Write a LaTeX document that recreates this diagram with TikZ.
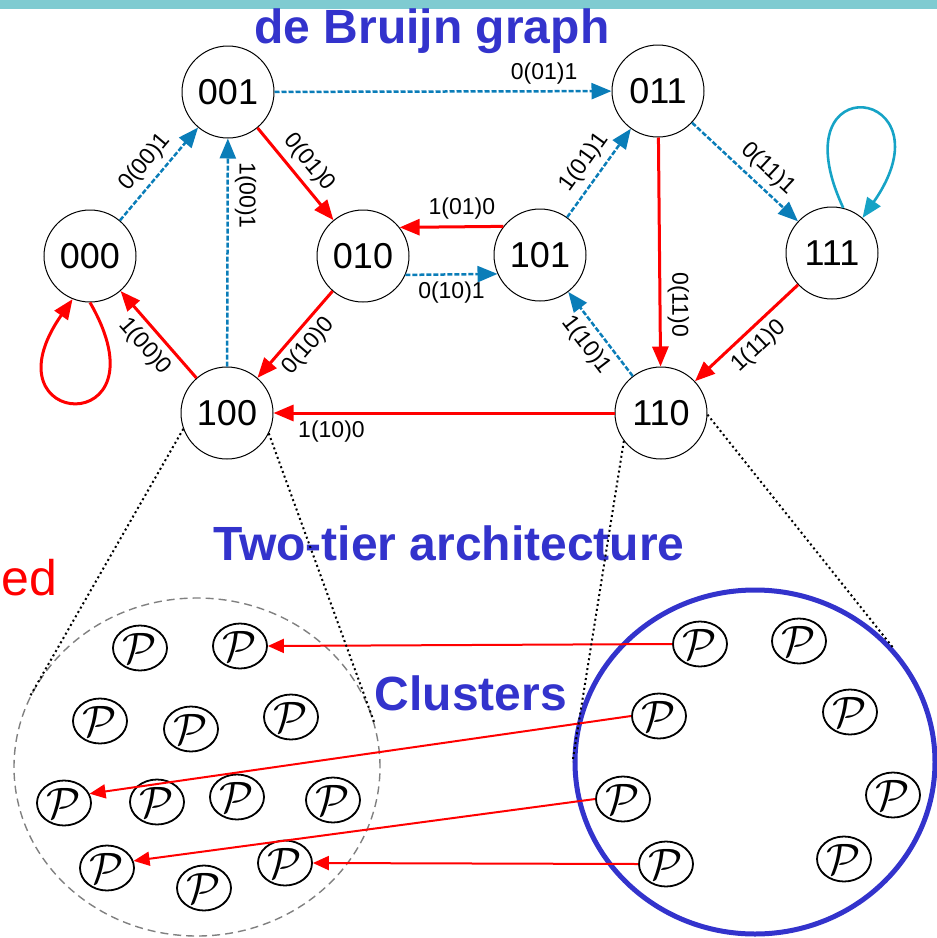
\documentclass[tikz,border=0pt]{standalone}
\usepackage{fix-cm}
\usepackage{fontspec}
\setmainfont{Liberation Sans}
\usetikzlibrary{arrows.meta,shapes.geometric}

\definecolor{barteal}{HTML}{7FCBD1}
\definecolor{titleblue}{HTML}{3333CC}
\definecolor{edgeblue}{HTML}{0A7DB8}
\definecolor{loopblue}{HTML}{16A3C6}

\tikzset{
    state/.style={circle,draw,line width=0.5pt,minimum size=46pt,inner sep=0pt,
        font=\fontsize{18}{18}\selectfont},
    peer/.style={ellipse,draw,line width=0.9pt,minimum width=27pt,minimum height=22.5pt,
        inner sep=0pt,font=\fontsize{22}{22}\selectfont},
    zero/.style={red,line width=1.5pt,-{Triangle[length=10pt,width=8pt]}},
    one/.style={edgeblue,line width=1.25pt,dash pattern=on 2.5pt off 1pt,
        -{Triangle[length=10pt,width=8pt]}},
    lbl/.style={text=black,font=\fontsize{11.5}{11.5}\selectfont,inner sep=3pt},
    heading/.style={titleblue,inner sep=0pt,font=\fontsize{24}{24}\selectfont\bfseries},
    zoomline/.style={line width=1pt,dash pattern=on 1pt off 1.5pt},
    link/.style={red,line width=1pt,-{Triangle[length=8pt,width=7pt]}}
}

\begin{document}
\begin{tikzpicture}[x=0.5pt,y=-0.5pt]
    \useasboundingbox (0,0) rectangle (937,938);
    \fill[barteal] (0,0) rectangle (937,9);

    % de Bruijn graph
    \node[heading,anchor=base] (title) at (432,43) {de Bruijn graph};
    \begin{scope}[every node/.style={state}]
        \node (n001) at (228,92) {001};
        \node (n011) at (658,91) {011};
        \node (n000) at (90,256) {000};
        \node (n010) at (363,256) {010};
        \node (n101) at (540,255) {101};
        \node (n111) at (832,253) {111};
        \node (n100) at (227,413) {100};
        \node (n110) at (661,413) {110};
    \end{scope}
    \path (n000) edge[one] node[lbl, midway, sloped, above] {0(00)1}(n001);
    \path (n100) edge[one] node[lbl, pos=0.75, anchor=south, rotate=-90] {1(00)1}(n001);
    \path (n001) edge[one] node[lbl, pos=0.8, above] {0(01)1}(n011);
    \path (n010.-24) edge[one] node[lbl, midway, below] {0(10)1}(n101.-156);
    \path (n101) edge[one] node[lbl, midway, sloped, above] {1(01)1}(n011);
    \path (n011) edge[one] node[lbl, pos=0.6, sloped, above] {0(11)1}(n111);
    \path (n110) edge[one] node[lbl, midway, sloped, below] {1(10)1}(n101);
    \path (n001) edge[zero] node[lbl, midway, sloped, above] {0(01)0}(n010);
    \path (n101.142) edge[zero] node[lbl, pos=0.4, above] {1(01)0}(n010.38);
    \path (n010) edge[zero] node[lbl, midway, sloped, below] {0(10)0}(n100);
    \path (n100) edge[zero] node[lbl, midway, sloped, below] {1(00)0}(n000);
    \path (n011) edge[zero] node[lbl, pos=0.73, anchor=south, rotate=-90] {0(11)0}(n110);
    \path (n111) edge[zero] node[lbl, midway, sloped, below] {1(11)0}(n110);
    \path (n110) edge[zero] node[lbl, pos=0.83, below] {1(10)0}(n100);
    \path (n000.-90) edge[zero, out=-60, in=-125, distance=80pt] (n000.-112);
    \path (n111.76) edge[loopblue, line width=1.3pt, -{Triangle[length=10pt,width=8pt]},
        out=115, in=55, distance=80pt] (n111.49);

    % two-tier architecture
    \node[heading,anchor=base] (tier) at (449,560) {Two-tier architecture};
    \node[heading,anchor=base] (clus) at (471,710) {Clusters};
    \node[red,inner sep=0pt,anchor=base east,font=\fontsize{25}{25}\selectfont] (cut) at (58,595) {ed};
    \node[ellipse,draw=gray,line width=0.7pt,dash pattern=on 4pt off 2.5pt,
        minimum width=183pt,minimum height=169pt,inner sep=0pt] (lclus) at (197,767) {};
    \node[ellipse,draw=titleblue,line width=2.5pt,
        minimum width=180pt,minimum height=172pt,inner sep=0pt] (rclus) at (755,762) {};

    \begin{scope}[every node/.style={peer}]
        \node (lp1) at (140,648) {$\mathcal{P}$};
        \node (lp2) at (240,646) {$\mathcal{P}$};
        \node (lp3) at (100,721) {$\mathcal{P}$};
        \node (lp4) at (191,729) {$\mathcal{P}$};
        \node (lp5) at (291,717) {$\mathcal{P}$};
        \node (lp6) at (64,803) {$\mathcal{P}$};
        \node (lp7) at (157,802) {$\mathcal{P}$};
        \node (lp8) at (237,797) {$\mathcal{P}$};
        \node (lp9) at (333,800) {$\mathcal{P}$};
        \node (lp10) at (107,868) {$\mathcal{P}$};
        \node (lp11) at (204,888) {$\mathcal{P}$};
        \node (lp12) at (285,863) {$\mathcal{P}$};
        \node (rp1) at (700,644) {$\mathcal{P}$};
        \node (rp2) at (799,641) {$\mathcal{P}$};
        \node (rp3) at (659,716) {$\mathcal{P}$};
        \node (rp4) at (850,712) {$\mathcal{P}$};
        \node (rp5) at (623,799) {$\mathcal{P}$};
        \node (rp6) at (893,795) {$\mathcal{P}$};
        \node (rp7) at (666,864) {$\mathcal{P}$};
        \node (rp8) at (844,859) {$\mathcal{P}$};
    \end{scope}
    \path (rp1.west) edge[link] (lp2.east);
    \path (rp3.west) edge[link] (lp6.20);
    \path (rp5.west) edge[link] (lp10.15);
    \path (rp7.west) edge[link] (lp12.east);

    % zoom lines
    \draw[zoomline] (n100.200) -- (lclus.157);
    \draw[zoomline] (n100.-26) -- (lclus.14);
    \draw[zoomline] (n110.217) -- (rclus.west);
    \draw[zoomline] (n110.-2) -- (rclus.39);
\end{tikzpicture}
\end{document}
